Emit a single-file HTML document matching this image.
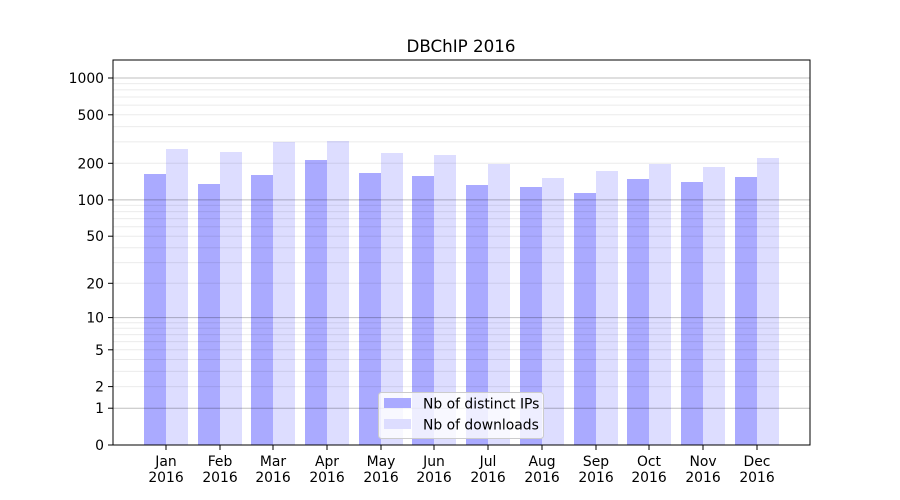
<!DOCTYPE html>
<html><head><meta charset="utf-8"><style>body{margin:0;background:#fff}svg{display:block}text{font-family:"DejaVu Sans","Liberation Sans",sans-serif;font-size:13.9px;fill:#000}</style></head>
<body>
<svg width="900" height="500" viewBox="0 0 900 500" xmlns="http://www.w3.org/2000/svg">
<rect width="900" height="500" fill="#fff"/>
<g id="bars">
<!-- dark x = c-22, light x = c -->
<rect x="144" y="174" width="22" height="271" fill="#aaaaff"/><rect x="166" y="149" width="22" height="296" fill="#ddddff"/>
<rect x="198" y="184" width="22" height="261" fill="#aaaaff"/><rect x="220" y="152" width="22" height="293" fill="#ddddff"/>
<rect x="251" y="175" width="22" height="270" fill="#aaaaff"/><rect x="273" y="142" width="22" height="303" fill="#ddddff"/>
<rect x="305" y="160" width="22" height="285" fill="#aaaaff"/><rect x="327" y="141" width="22" height="304" fill="#ddddff"/>
<rect x="359" y="173" width="22" height="272" fill="#aaaaff"/><rect x="381" y="153" width="22" height="292" fill="#ddddff"/>
<rect x="412" y="176" width="22" height="269" fill="#aaaaff"/><rect x="434" y="155" width="22" height="290" fill="#ddddff"/>
<rect x="466" y="185" width="22" height="260" fill="#aaaaff"/><rect x="488" y="164" width="22" height="281" fill="#ddddff"/>
<rect x="520" y="187" width="22" height="258" fill="#aaaaff"/><rect x="542" y="178" width="22" height="267" fill="#ddddff"/>
<rect x="574" y="193" width="22" height="252" fill="#aaaaff"/><rect x="596" y="171" width="22" height="274" fill="#ddddff"/>
<rect x="627" y="179" width="22" height="266" fill="#aaaaff"/><rect x="649" y="164" width="22" height="281" fill="#ddddff"/>
<rect x="681" y="182" width="22" height="263" fill="#aaaaff"/><rect x="703" y="167" width="22" height="278" fill="#ddddff"/>
<rect x="735" y="177" width="22" height="268" fill="#aaaaff"/><rect x="757" y="158" width="22" height="287" fill="#ddddff"/>
</g>
<g stroke="#000" stroke-opacity="0.08" stroke-width="1">
<line x1="113" x2="810" y1="386.6" y2="386.6"/><line x1="113" x2="810" y1="371.4" y2="371.4"/><line x1="113" x2="810" y1="359.5" y2="359.5"/><line x1="113" x2="810" y1="349.8" y2="349.8"/><line x1="113" x2="810" y1="341.6" y2="341.6"/><line x1="113" x2="810" y1="334.6" y2="334.6"/><line x1="113" x2="810" y1="328.3" y2="328.3"/><line x1="113" x2="810" y1="322.7" y2="322.7"/>
<line x1="113" x2="810" y1="283.3" y2="283.3"/><line x1="113" x2="810" y1="262.6" y2="262.6"/><line x1="113" x2="810" y1="247.8" y2="247.8"/><line x1="113" x2="810" y1="236.2" y2="236.2"/><line x1="113" x2="810" y1="226.7" y2="226.7"/><line x1="113" x2="810" y1="218.6" y2="218.6"/><line x1="113" x2="810" y1="211.6" y2="211.6"/><line x1="113" x2="810" y1="205.4" y2="205.4"/>
<line x1="113" x2="810" y1="163.3" y2="163.3"/><line x1="113" x2="810" y1="141.9" y2="141.9"/><line x1="113" x2="810" y1="126.6" y2="126.6"/><line x1="113" x2="810" y1="114.8" y2="114.8"/><line x1="113" x2="810" y1="105.1" y2="105.1"/><line x1="113" x2="810" y1="97" y2="97"/><line x1="113" x2="810" y1="89.9" y2="89.9"/><line x1="113" x2="810" y1="83.6" y2="83.6"/>
</g>
<g stroke="#000" stroke-opacity="0.25" stroke-width="1">
<line x1="113" x2="810" y1="408.2" y2="408.2"/><line x1="113" x2="810" y1="317.6" y2="317.6"/><line x1="113" x2="810" y1="199.9" y2="199.9"/><line x1="113" x2="810" y1="78" y2="78"/>
</g>
<rect x="113" y="60" width="697" height="385" fill="none" stroke="#000" stroke-width="1"/>
<g stroke="#000" stroke-width="1">
<line x1="108" x2="113" y1="445" y2="445"/><line x1="108" x2="113" y1="408.2" y2="408.2"/><line x1="108" x2="113" y1="386.6" y2="386.6"/><line x1="108" x2="113" y1="349.8" y2="349.8"/><line x1="108" x2="113" y1="317.6" y2="317.6"/><line x1="108" x2="113" y1="283.3" y2="283.3"/><line x1="108" x2="113" y1="236.2" y2="236.2"/><line x1="108" x2="113" y1="199.9" y2="199.9"/><line x1="108" x2="113" y1="163.3" y2="163.3"/><line x1="108" x2="113" y1="114.8" y2="114.8"/><line x1="108" x2="113" y1="78" y2="78"/>
</g>
<g text-anchor="end">
<text x="104" y="450">0</text><text x="104" y="413">1</text><text x="104" y="391.5">2</text><text x="104" y="354.8">5</text><text x="104" y="322.6">10</text><text x="104" y="288.3">20</text><text x="104" y="241.2">50</text><text x="104" y="204.9">100</text><text x="104" y="168.3">200</text><text x="104" y="119.8">500</text><text x="104" y="83">1000</text>
</g>
<g stroke="#000" stroke-width="1">
<line x1="166" x2="166" y1="445" y2="450"/><line x1="220" x2="220" y1="445" y2="450"/><line x1="273" x2="273" y1="445" y2="450"/><line x1="327" x2="327" y1="445" y2="450"/><line x1="381" x2="381" y1="445" y2="450"/><line x1="434" x2="434" y1="445" y2="450"/><line x1="488" x2="488" y1="445" y2="450"/><line x1="542" x2="542" y1="445" y2="450"/><line x1="596" x2="596" y1="445" y2="450"/><line x1="649" x2="649" y1="445" y2="450"/><line x1="703" x2="703" y1="445" y2="450"/><line x1="757" x2="757" y1="445" y2="450"/>
</g>
<g text-anchor="middle">
<text x="166" y="466">Jan</text><text x="166" y="482">2016</text>
<text x="220" y="466">Feb</text><text x="220" y="482">2016</text>
<text x="273" y="466">Mar</text><text x="273" y="482">2016</text>
<text x="327" y="466">Apr</text><text x="327" y="482">2016</text>
<text x="381" y="466">May</text><text x="381" y="482">2016</text>
<text x="434" y="466">Jun</text><text x="434" y="482">2016</text>
<text x="488" y="466">Jul</text><text x="488" y="482">2016</text>
<text x="542" y="466">Aug</text><text x="542" y="482">2016</text>
<text x="596" y="466">Sep</text><text x="596" y="482">2016</text>
<text x="649" y="466">Oct</text><text x="649" y="482">2016</text>
<text x="703" y="466">Nov</text><text x="703" y="482">2016</text>
<text x="757" y="466">Dec</text><text x="757" y="482">2016</text>
<text x="461" y="52" style="font-size:16.7px">DBChIP 2016</text>
</g>
<rect x="378.5" y="392.5" width="165" height="46" rx="3" fill="#fff" fill-opacity="0.8" stroke="#ccc"/>
<rect x="384" y="398" width="27" height="10" fill="#aaaaff"/>
<rect x="384" y="419" width="27" height="10" fill="#ddddff"/>
<text x="423" y="408.5">Nb of distinct IPs</text>
<text x="423" y="429.5">Nb of downloads</text>
</svg>
</body></html>
